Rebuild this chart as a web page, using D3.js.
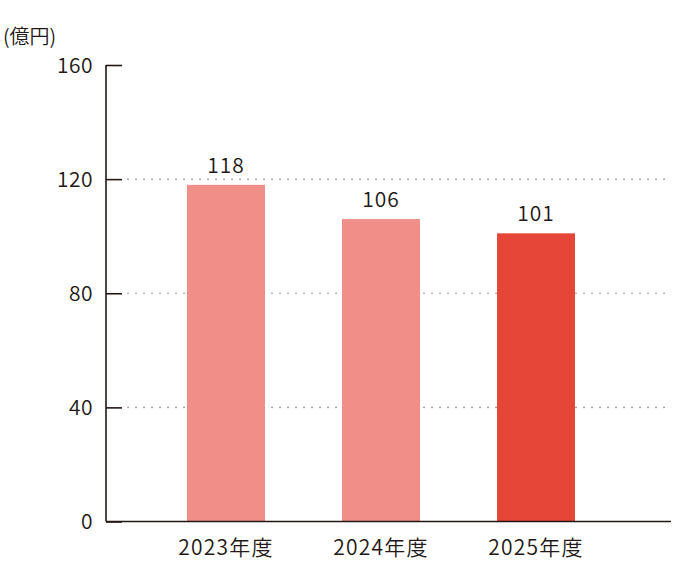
<!DOCTYPE html>
<html>
<head>
<meta charset="utf-8">
<script src="https://cdn.jsdelivr.net/npm/d3@7"></script>
<style>
    body { margin: 0; background: #fff; }
    text { font-family: "Noto Sans CJK JP", "Noto Sans", sans-serif; fill: #231815; font-weight: 350; }
</style>
</head>
<body>
<div id="chart"></div>
<script>
// Chart data
const categories = ['2023年度', '2024年度', '2025年度'];
const values = [118, 106, 101];
const barColors = ['#f08e88', '#f08e88', '#e64637'];
const yTicks = [0, 40, 80, 120, 160];
const unitLabel = '(億円)';

const width = 674;
const height = 574;
const margin = { top: 65, right: 4, bottom: 53, left: 106 };

const svg = d3.select('#chart')
    .append('svg')
    .attr('width', width)
    .attr('height', height);

const x = d3.scaleBand()
    .domain(categories)
    .range([109.5, 652.5])
    .paddingInner(0.497)
    .paddingOuter(0.5);

const y = d3.scaleLinear()
    .domain([0, 160])
    .range([height - margin.bottom + 0.5, margin.top]);

// Dotted grid lines
svg.append('g')
    .selectAll('line')
    .data(yTicks.filter(d => d > 0 && d < 160))
    .join('line')
    .attr('x1', 128)
    .attr('x2', 670)
    .attr('y1', d => y(d))
    .attr('y2', d => y(d))
    .attr('stroke', '#8a8a8a')
    .attr('stroke-width', 1.6)
    .attr('stroke-linecap', 'round')
    .attr('stroke-dasharray', '0.1 7.9');

// Bars
svg.append('g')
    .selectAll('rect')
    .data(values)
    .join('rect')
    .attr('x', (d, i) => x(categories[i]))
    .attr('width', x.bandwidth())
    .attr('y', d => y(d))
    .attr('height', d => y(0) - y(d))
    .attr('fill', (d, i) => barColors[i]);

// Value labels
svg.append('g')
    .selectAll('text')
    .data(values)
    .join('text')
    .attr('x', (d, i) => x(categories[i]) + x.bandwidth() / 2)
    .attr('y', d => y(d) - 12)
    .attr('text-anchor', 'middle')
    .attr('font-size', 21)
    .attr('letter-spacing', 1)
    .text(d => d);

// Y axis
const yAxis = svg.append('g')
    .attr('transform', `translate(${margin.left},0)`)
    .call(d3.axisRight(y).tickValues(yTicks).tickSize(16).tickFormat(''));
yAxis.select('.domain').attr('d', `M0,${y(160)}V${y(0)}`)
    .attr('stroke', '#231815').attr('stroke-width', 1.6);
yAxis.selectAll('.tick line').attr('stroke', '#231815').attr('stroke-width', 1.6);

svg.append('g')
    .selectAll('text')
    .data(yTicks)
    .join('text')
    .attr('x', 93)
    .attr('y', d => y(d))
    .attr('dy', '0.36em')
    .attr('text-anchor', 'end')
    .attr('font-size', 21)
    .attr('letter-spacing', 0.5)
    .text(d => d);

// Baseline
svg.append('line')
    .attr('x1', margin.left)
    .attr('x2', 671)
    .attr('y1', y(0))
    .attr('y2', y(0))
    .attr('stroke', '#231815')
    .attr('stroke-width', 1.6);

// Category labels
svg.append('g')
    .selectAll('text')
    .data(categories)
    .join('text')
    .attr('x', d => x(d) + x.bandwidth() / 2)
    .attr('y', 555)
    .attr('text-anchor', 'middle')
    .attr('font-size', 21)
    .attr('letter-spacing', 1.2)
    .text(d => d);

// Unit label
svg.append('text')
    .attr('x', 3)
    .attr('y', 44)
    .attr('font-size', 20)
    .attr('font-weight', 400)
    .text(unitLabel);
</script>
</body>
</html>
